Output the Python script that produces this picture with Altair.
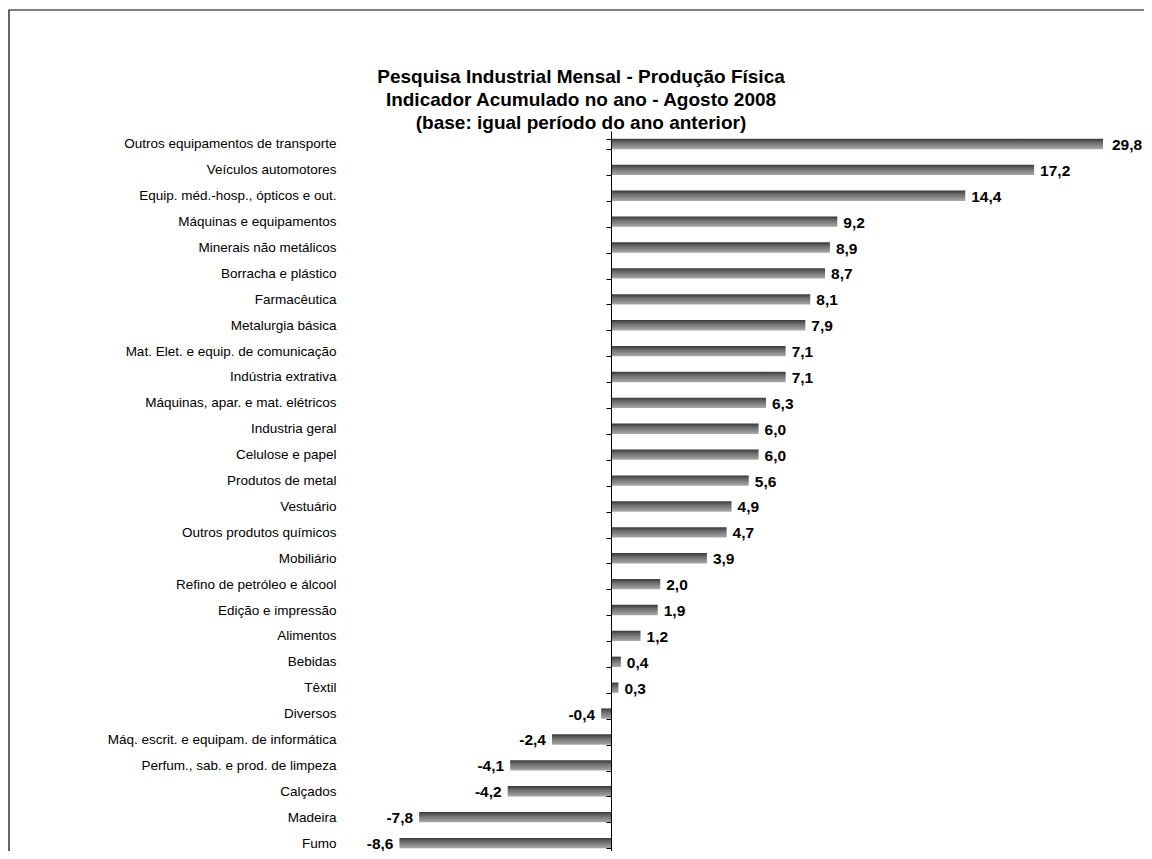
import altair as alt
import pandas as pd

categories = [
    "Outros equipamentos de transporte",
    "Veículos automotores",
    "Equip. méd.-hosp., ópticos e out.",
    "Máquinas e equipamentos",
    "Minerais não metálicos",
    "Borracha e plástico",
    "Farmacêutica",
    "Metalurgia básica",
    "Mat. Elet. e equip. de comunicação",
    "Indústria extrativa",
    "Máquinas, apar. e mat. elétricos",
    "Industria geral",
    "Celulose e papel",
    "Produtos de metal",
    "Vestuário",
    "Outros produtos químicos",
    "Mobiliário",
    "Refino de petróleo e álcool",
    "Edição e impressão",
    "Alimentos",
    "Bebidas",
    "Têxtil",
    "Diversos",
    "Máq. escrit. e equipam. de informática",
    "Perfum., sab. e prod. de limpeza",
    "Calçados",
    "Madeira",
    "Fumo",
]
values = [29.8, 17.2, 14.4, 9.2, 8.9, 8.7, 8.1, 7.9, 7.1, 7.1, 6.3, 6.0, 6.0, 5.6,
          4.9, 4.7, 3.9, 2.0, 1.9, 1.2, 0.4, 0.3, -0.4, -2.4, -4.1, -4.2, -7.8, -8.6]

title_lines = [
    "Pesquisa Industrial Mensal - Produção Física",
    "Indicador Acumulado no ano - Agosto 2008",
    "(base: igual período do ano anterior)",
]

XMIN, XMAX = -10, 20
W, H = 738, 725
PAD_L, PAD_T = 357, 123
SVG_W, SVG_H = 1136, 843
FONT = "Liberation Sans"

df = pd.DataFrame({"cat": categories, "v": values})

base = alt.Chart(df).transform_calculate(
    xp=f"min(datum.v, {XMAX})",
    lbl="(datum.v < 0 ? '-' : '') + replace(format(abs(datum.v), '.1f'), '.', ',')",
)

xscale = alt.Scale(domain=[XMIN, XMAX], nice=False, zero=False)
yscale = alt.Scale(paddingInner=0.6, paddingOuter=0.3)
zero_offset = -W * (0 - XMIN) / (XMAX - XMIN)

grad = alt.Gradient(
    gradient="linear",
    stops=[
        alt.GradientStop(offset=0, color="#383838"),
        alt.GradientStop(offset=0.35, color="#6a6a6a"),
        alt.GradientStop(offset=1, color="#a9a9a9"),
    ],
    x1=0, x2=0, y1=0, y2=1,
)

yaxis = alt.Axis(
    title=None, orient="left", offset=zero_offset, domain=True, domainColor="black",
    domainWidth=1, ticks=True, tickColor="black", tickSize=5, tickBand="extent",
    labelPadding=270, labelFont=FONT, labelFontSize=13.5, labelColor="black",
    labelLimit=400, zindex=1,
)

bars = base.mark_bar(color=grad, clip=True).encode(
    x=alt.X("v:Q", scale=xscale, axis=None),
    y=alt.Y("cat:N", sort=categories, scale=yscale, axis=yaxis),
)

txt_style = dict(font=FONT, fontSize=15.5, fontWeight="bold", color="black", baseline="middle")

pos_lbl = base.transform_filter(f"datum.v >= 0 && datum.v <= {XMAX}").mark_text(
    align="left", dx=6, dy=1, **txt_style
).encode(x=alt.X("xp:Q", scale=xscale), y=alt.Y("cat:N", sort=categories), text="lbl:N")

clip_lbl = base.transform_filter(f"datum.v > {XMAX}").mark_text(
    align="left", dx=9, dy=1, **txt_style
).encode(x=alt.X("xp:Q", scale=xscale), y=alt.Y("cat:N", sort=categories), text="lbl:N")

neg_lbl = base.transform_filter("datum.v < 0").mark_text(
    align="right", dx=-6, dy=1, **txt_style
).encode(x=alt.X("xp:Q", scale=xscale), y=alt.Y("cat:N", sort=categories), text="lbl:N")

one = pd.DataFrame({"a": [0]})

frame = alt.Chart(one).mark_rect(
    fill="white", fillOpacity=0, stroke="black", strokeWidth=1.2
).encode(
    x=alt.value(-356), y=alt.value(-121), x2=alt.value(2000), y2=alt.value(2000)
)

title = alt.Chart(one).mark_text(
    text=title_lines, font=FONT, fontSize=19, fontWeight="bold", color="black",
    align="center", baseline="middle", lineHeight=23,
).encode(x=alt.value(216), y=alt.value(-54))

chart = alt.layer(frame, title, bars, pos_lbl, clip_lbl, neg_lbl).properties(
    width=W,
    height=H,
    autosize=alt.AutoSizeParams(type="none"),
    padding={"left": PAD_L, "top": PAD_T, "right": SVG_W - PAD_L - W,
             "bottom": SVG_H - PAD_T - H},
).configure(
    background="white",
    view=alt.ViewConfig(stroke="transparent", strokeWidth=0),
)

chart.save("out.html", embed_options={"renderer": "svg", "actions": False})
